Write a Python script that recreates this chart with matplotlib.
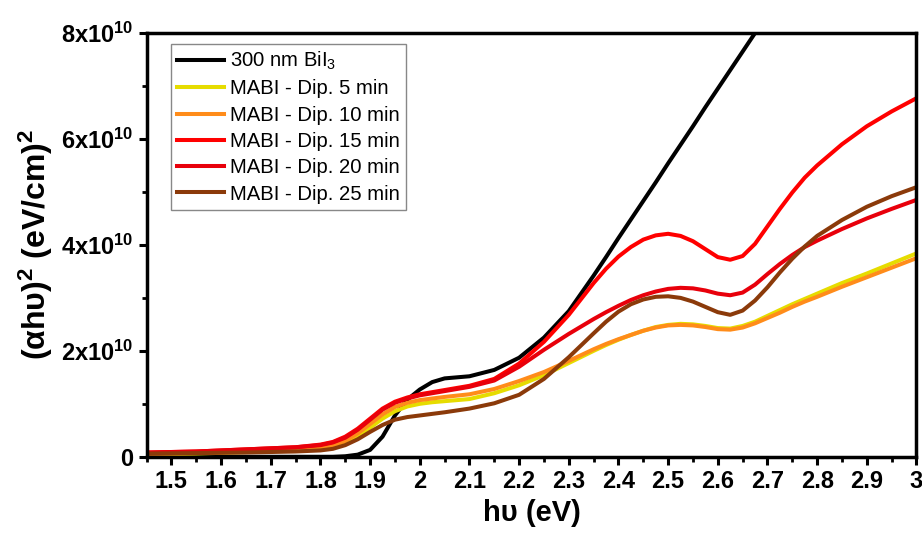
import matplotlib
matplotlib.use('Agg')
import matplotlib.pyplot as plt
from matplotlib.ticker import MultipleLocator, FixedLocator

plt.rcParams['font.family'] = ['Liberation Sans', 'DejaVu Sans']
plt.rcParams['mathtext.fontset'] = 'custom'
plt.rcParams['mathtext.rm'] = 'Liberation Sans'
plt.rcParams['mathtext.bf'] = 'Liberation Sans:bold'
plt.rcParams['mathtext.default'] = 'bf'

# photon energy (eV)
energy = [1.45, 1.55, 1.65, 1.75, 1.8, 1.825, 1.85, 1.875, 1.9, 1.925, 1.95, 1.975,
          2.0, 2.025, 2.05, 2.1, 2.15, 2.2, 2.25, 2.3, 2.35, 2.375, 2.4, 2.425,
          2.45, 2.475, 2.5, 2.525, 2.55, 2.575, 2.6, 2.625, 2.65, 2.675, 2.7,
          2.725, 2.75, 2.775, 2.8, 2.85, 2.9, 2.95, 3.0]

# (alpha h nu)^2 in units of 1e10 (eV/cm)^2 ; BiI3 leaves the plot at ~2.68 eV
bii3 = [0, 0, 0, 0, 0, 0, 0.01, 0.04, 0.13, 0.38, 0.78, 1.08,
        1.27, 1.41, 1.48, 1.52, 1.64, 1.87, 2.25, 2.75, 3.42, 3.77, 4.13, 4.48,
        4.83, 5.18, 5.54, 5.89, 6.24, 6.6, 6.95, 7.3, 7.65, 8.0, 8.35]
dip5 = [0.04, 0.06, 0.09, 0.13, 0.17, 0.2, 0.27, 0.39, 0.55, 0.72, 0.86, 0.95,
        1.0, 1.03, 1.05, 1.09, 1.2, 1.35, 1.54, 1.77, 2.0, 2.11, 2.21, 2.3,
        2.38, 2.45, 2.49, 2.51, 2.5, 2.47, 2.43, 2.42, 2.47, 2.55, 2.66,
        2.77, 2.88, 2.98, 3.08, 3.28, 3.46, 3.65, 3.84]
dip10 = [0.05, 0.07, 0.1, 0.14, 0.18, 0.22, 0.3, 0.44, 0.62, 0.8, 0.94, 1.02,
         1.07, 1.1, 1.13, 1.18, 1.28, 1.43, 1.6, 1.81, 2.03, 2.13, 2.22, 2.3,
         2.38, 2.44, 2.48, 2.49, 2.48, 2.45, 2.41, 2.4, 2.44, 2.52, 2.62,
         2.72, 2.83, 2.93, 3.02, 3.21, 3.39, 3.57, 3.75]
dip15 = [0.08, 0.1, 0.14, 0.18, 0.23, 0.28, 0.38, 0.53, 0.72, 0.91, 1.04, 1.12,
         1.18, 1.22, 1.26, 1.34, 1.47, 1.76, 2.17, 2.68, 3.28, 3.55, 3.78, 3.96,
         4.1, 4.18, 4.21, 4.17, 4.07, 3.92, 3.77, 3.72, 3.79, 4.02, 4.35,
         4.68, 4.99, 5.27, 5.5, 5.9, 6.24, 6.52, 6.77]
dip20 = [0.08, 0.1, 0.14, 0.18, 0.22, 0.27, 0.36, 0.51, 0.7, 0.89, 1.02, 1.1,
         1.16, 1.2, 1.24, 1.32, 1.44, 1.7, 2.02, 2.32, 2.6, 2.73, 2.85, 2.96,
         3.05, 3.12, 3.17, 3.19, 3.18, 3.14, 3.08, 3.05, 3.1, 3.25, 3.45,
         3.64, 3.81, 3.96, 4.08, 4.3, 4.5, 4.68, 4.85]
dip25 = [0.06, 0.07, 0.08, 0.1, 0.12, 0.15, 0.22, 0.33, 0.47, 0.6, 0.7, 0.75,
         0.78, 0.81, 0.84, 0.91, 1.01, 1.17, 1.47, 1.88, 2.33, 2.55, 2.74, 2.88,
         2.97, 3.02, 3.03, 3.0, 2.93, 2.83, 2.73, 2.68, 2.76, 2.95, 3.2,
         3.48, 3.74, 3.97, 4.17, 4.47, 4.72, 4.92, 5.09]

labels = [r'300 nm BiI$_\mathregular{3}$', 'MABI - Dip. 5 min', 'MABI - Dip. 10 min',
          'MABI - Dip. 15 min', 'MABI - Dip. 20 min', 'MABI - Dip. 25 min']
colors = ['#000000', '#E6DC00', '#FF8C1A', '#FF0000', '#E8000B', '#8B3A0A']
series = [bii3, dip5, dip10, dip15, dip20, dip25]

fig = plt.figure(figsize=(9.22, 5.33), dpi=100)
ax = fig.add_axes([0.159, 0.143, 0.835, 0.795])

for s, c, lab in zip(series, colors, labels):
    ax.plot(energy[:len(s)], [v * 1e10 for v in s], color=c, lw=2.9, label=lab,
            solid_joinstyle='round')

ax.set_xlim(1.45, 3.0)
ax.set_ylim(0, 8e10)

xt = [1.5, 1.6, 1.7, 1.8, 1.9, 2.0, 2.1, 2.2, 2.3, 2.4, 2.5, 2.6, 2.7, 2.8, 2.9, 3.0]
ax.xaxis.set_major_locator(FixedLocator(xt))
ax.set_xticklabels(['%g' % t for t in xt])
ax.xaxis.set_minor_locator(MultipleLocator(0.05))
yt = [0, 2e10, 4e10, 6e10, 8e10]
ax.yaxis.set_major_locator(FixedLocator(yt))
ax.set_yticklabels(['0', '2x10$^{10}$', '4x10$^{10}$', '6x10$^{10}$', '8x10$^{10}$'])
ax.yaxis.set_minor_locator(MultipleLocator(1e10))

for sp in ax.spines.values():
    sp.set_linewidth(2.5)
ax.tick_params(which='major', direction='out', length=6, width=2.2, labelsize=17)
ax.tick_params(which='minor', direction='out', length=3.5, width=2)
for lab in ax.get_xticklabels() + ax.get_yticklabels():
    lab.set_fontweight('bold')

ax.set_xlabel('hυ (eV)', fontsize=21, fontweight='bold', labelpad=4)
ax.set_ylabel('(αhυ)$^2$ (eV/cm)$^2$', fontsize=23, fontweight='bold', labelpad=4)

leg = ax.legend(loc='upper left', bbox_to_anchor=(0.032, 0.975), borderaxespad=0,
                fontsize=14.6, handlelength=2.3, handletextpad=0.3, labelspacing=0.36,
                borderpad=0.3, fancybox=False, framealpha=1)
leg.get_frame().set_edgecolor('#888888')
leg.get_frame().set_linewidth(1)

fig.savefig('out.png', dpi=100)
